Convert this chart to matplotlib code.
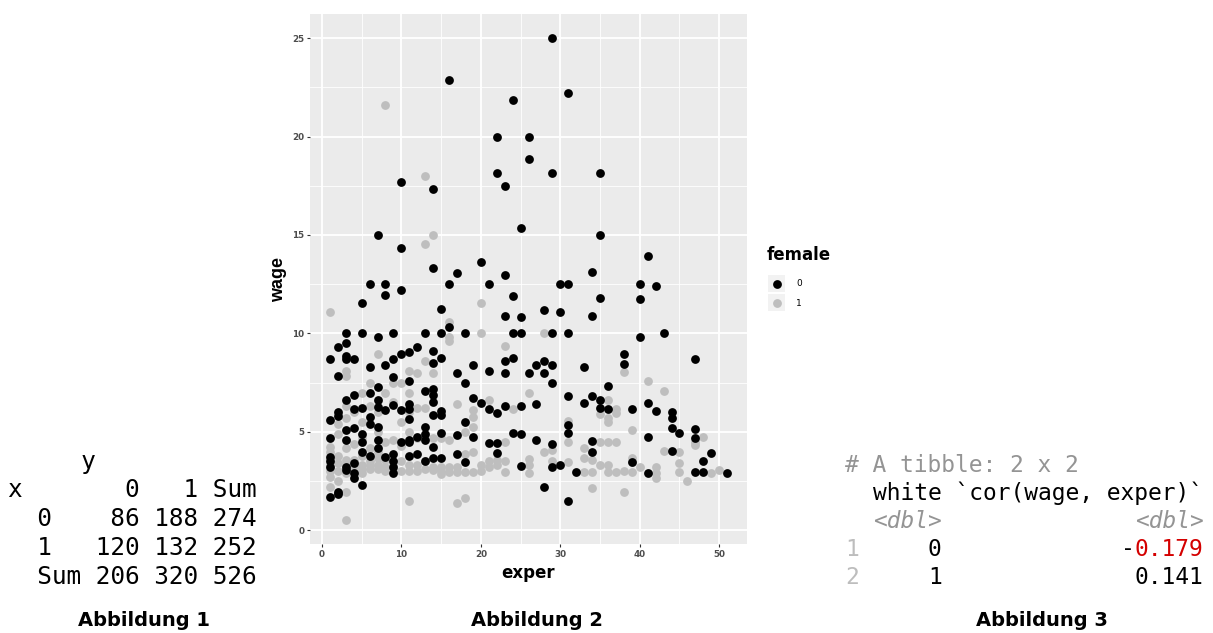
import matplotlib
matplotlib.use("Agg")
import matplotlib.pyplot as plt
from matplotlib.patches import Rectangle

# ---------------- data ----------------
# Abbildung 1: contingency table x vs y
tab_rows = ["0", "1", "Sum"]
tab_y0 = [86, 120, 206]
tab_y1 = [188, 132, 320]
tab_sum = [274, 252, 526]

# Abbildung 3: tibble
tib_white = [0, 1]
tib_cor = [-0.179, 0.141]

# Abbildung 2: scatter (exper, wage), female = 0 (black)
exper_m = ([1]*7 + [2]*6 + [3]*9 + [4]*7 + [5]*7 + [6]*6 + [7]*8 + [8]*5 + [9]*8 + [10]*6
           + [11]*8 + [12]*3 + [13]*6 + [14]*10 + [15]*7 + [16]*3 + [17]*4 + [18]*4 + [19]*3
           + [20]*2 + [21]*4 + [22]*5 + [23]*6 + [24]*5 + [25]*6 + [26]*3 + [27]*3 + [28]*4
           + [29]*7 + [30]*3 + [31]*7 + [32]*1 + [33]*2 + [34]*5 + [35]*5 + [36]*2 + [38]*2
           + [39]*2 + [40]*3 + [41]*4 + [42]*2 + [43]*1 + [44]*4 + [45]*1 + [47]*4 + [48]*2
           + [49]*1 + [51]*1)
wage_m = [8.7, 5.6, 4.7, 3.75, 3.5, 3.2, 1.72,
          9.3, 7.86, 6.0, 5.8, 1.97, 1.85,
          10.0, 9.5, 8.87, 8.7, 6.6, 5.08, 4.58, 3.2, 3.06,
          8.69, 6.85, 6.18, 5.2, 3.4, 2.9, 2.65,
          11.54, 10.0, 6.2, 4.9, 4.5, 4.0, 2.3,
          12.5, 8.3, 7.0, 5.76, 5.4, 3.8,
          15.0, 9.8, 7.27, 6.6, 6.26, 5.24, 4.58, 4.16,
          12.5, 11.93, 8.42, 6.1, 3.74,
          10.0, 8.7, 7.78, 6.35, 3.9, 3.5, 3.23, 2.9,
          17.7, 14.36, 12.2, 8.96, 6.1, 4.5,
          9.04, 7.6, 6.4, 6.18, 5.67, 4.6, 4.5, 3.77,
          9.3, 4.75, 3.87,
          10.0, 7.1, 5.25, 4.9, 4.6, 3.5,
          17.32, 13.3, 9.1, 8.48, 7.2, 6.85, 6.5, 5.84, 4.24, 3.7,
          11.25, 10.0, 8.74, 6.06, 5.84, 4.95, 3.7,
          22.85, 12.5, 10.35,
          13.05, 7.98, 4.83, 3.87,
          10.0, 7.47, 5.5, 3.48,
          8.42, 6.72, 4.75,
          13.65, 6.46,
          12.5, 8.1, 6.18, 4.44,
          20.0, 18.17, 5.96, 4.44, 3.94,
          17.47, 12.98, 10.9, 8.59, 7.98, 6.3,
          21.85, 11.88, 10.0, 8.74, 4.95,
          15.36, 10.86, 10.0, 6.3, 4.92, 3.28,
          20.0, 18.88, 7.98,
          8.4, 6.43, 4.6,
          11.2, 8.59, 7.98, 2.22,
          25.0, 18.15, 10.0, 8.42, 7.47, 4.4, 3.23,
          12.5, 11.08, 3.3,
          22.2, 12.5, 10.0, 6.83, 5.35, 4.95, 1.47,
          2.98,
          8.28, 6.48,
          13.14, 10.9, 6.83, 4.53, 3.97,
          18.15, 15.0, 11.78, 6.6, 6.2,
          7.31, 6.18,
          8.96, 8.45,
          6.18, 3.48,
          12.5, 11.73, 9.83,
          13.92, 6.48, 4.75, 2.9,
          12.4, 6.06,
          10.0,
          6.0, 5.72, 5.22, 4.04,
          4.97,
          8.7, 5.17, 4.71, 2.98,
          3.52, 2.98,
          3.94,
          2.9]

# female = 1 (grey)
exper_f = ([1]*7 + [2]*6 + [3]*10 + [4]*6 + [5]*7 + [6]*6 + [7]*7 + [8]*6 + [9]*5 + [10]*5
           + [11]*7 + [12]*5 + [13]*6 + [14]*5 + [15]*4 + [16]*6 + [17]*4 + [18]*4 + [19]*5
           + [20]*4 + [21]*3 + [22]*2 + [23]*4 + [24]*1 + [26]*4 + [28]*2 + [29]*2 + [31]*3
           + [33]*3 + [34]*3 + [35]*3 + [36]*6 + [37]*4 + [38]*3 + [39]*4 + [40]*1 + [41]*1
           + [42]*3 + [43]*2 + [45]*3 + [46]*1 + [47]*2 + [48]*1 + [49]*1 + [50]*1)
wage_f = [11.1, 4.24, 4.0, 3.3, 3.0, 2.73, 2.2,
          5.4, 4.9, 3.8, 3.4, 3.0, 2.5,
          8.1, 7.86, 6.3, 5.7, 4.2, 3.6, 3.3, 2.9, 1.97, 0.54,
          6.0, 4.4, 3.6, 3.35, 3.2, 3.0,
          7.0, 5.5, 4.7, 3.8, 3.3, 3.1, 2.9,
          7.47, 6.3, 4.2, 3.5, 3.3, 3.1,
          8.96, 6.0, 5.0, 4.0, 3.7, 3.3, 3.1,
          21.6, 7.0, 4.5, 3.6, 3.2, 3.0,
          7.5, 6.5, 4.6, 3.3, 3.0,
          7.47, 5.5, 4.3, 3.5, 3.0,
          8.1, 7.0, 6.0, 5.0, 3.3, 3.0, 1.47,
          7.98, 6.2, 4.7, 3.3, 3.0,
          18.0, 14.54, 8.6, 6.2, 3.5, 3.1,
          15.0, 7.98, 4.7, 3.2, 3.05,
          4.7, 3.2, 3.0, 2.85,
          10.6, 9.8, 9.63, 4.6, 3.2, 2.95,
          6.43, 3.2, 2.95, 1.41,
          5.0, 3.9, 2.98, 1.63,
          6.1, 5.76, 5.25, 4.0, 2.98,
          11.53, 10.0, 3.3, 3.0,
          6.6, 3.5, 3.2,
          3.6, 3.3,
          9.38, 4.5, 3.5, 2.95,
          6.18,
          6.99, 3.65, 3.3, 2.9,
          10.0, 3.99,
          4.07, 3.5,
          5.55, 4.5, 3.48,
          4.16, 3.7, 2.98,
          3.57, 2.98, 2.14,
          5.9, 4.5, 3.3,
          6.6, 5.72, 5.5, 4.5, 3.3, 2.98,
          6.18, 5.96, 4.5, 2.98,
          8.03, 3.0, 1.94,
          5.1, 3.7, 3.48, 2.98,
          3.23,
          7.58,
          3.23, 2.9, 2.65,
          7.1, 4.04,
          3.99, 3.4, 2.98,
          2.53,
          4.5, 4.33,
          4.75,
          2.9,
          3.06]

x_ticks = [0, 10, 20, 30, 40, 50]
y_ticks = [0, 5, 10, 15, 20, 25]
legend_labels = ["0", "1"]

# ---------------- figure ----------------
W, H = 1213, 633
fig = plt.figure(figsize=(W / 100, H / 100), dpi=100)
fig.patch.set_facecolor("white")


def P(x, y):
    return x / W, 1 - y / H


MONO = "DejaVu Sans Mono"
SANS = "Liberation Sans"
WIDE = "DejaVu Sans"
BLACK_C = "#000000"
GREY_C = "#BEBEBE"

# ---- Abbildung 1: table ----
tfs = 17.6
tx = 8
lines1 = ["     y",
          "x       0   1 Sum"]
for r, a, b, s in zip(tab_rows, tab_y0, tab_y1, tab_sum):
    lines1.append("  " + r.ljust(3) + " " + f"{a:>3} {b:>3} {s:>3}")
ys1 = [462, 490, 519, 548, 577]
for ln, yy in zip(lines1, ys1):
    fig.text(*P(tx, yy), ln, family=MONO, fontsize=tfs, ha="left", va="center",
             color="black")

# ---- Abbildung 3: tibble ----
rfs = 16.5
rx = 845
cw = 0.602 * rfs * 100 / 72  # monospace advance in px
fig.text(*P(rx, 466), "# A tibble: 2 x 2", family=MONO, fontsize=rfs, ha="left",
         va="center", color="#949494")
fig.text(*P(rx + 2 * cw, 493), "white `cor(wage, exper)`", family=MONO, fontsize=rfs,
         ha="left", va="center", color="black")
fig.text(*P(rx + 2 * cw, 521), "<dbl>", family=MONO, fontsize=rfs,
         ha="left", va="center", color="#949494", style="italic")
fig.text(*P(rx + 21 * cw, 521), "<dbl>", family=MONO, fontsize=rfs,
         ha="left", va="center", color="#949494", style="italic")
for i, (wv, cv, yy) in enumerate(zip(tib_white, tib_cor, [549, 577])):
    fig.text(*P(rx, yy), str(i + 1), family=MONO, fontsize=rfs, ha="left",
             va="center", color="#BDBDBD")
    fig.text(*P(rx + 6 * cw, yy), str(wv), family=MONO, fontsize=rfs, ha="left",
             va="center", color="black")
    num = f"{abs(cv):.3f}"
    if cv < 0:
        fig.text(*P(rx + 20 * cw, yy), "-", family=MONO, fontsize=rfs,
                 ha="left", va="center", color="black")
        fig.text(*P(rx + 21 * cw, yy), num, family=MONO, fontsize=rfs,
                 ha="left", va="center", color="#D40000")
    else:
        fig.text(*P(rx + 21 * cw, yy), num, family=MONO, fontsize=rfs,
                 ha="left", va="center", color="black")

# ---- captions ----
for cx, lab in [(144, "Abbildung 1"), (537, "Abbildung 2"), (1042, "Abbildung 3")]:
    fig.text(*P(cx, 620), lab, family=WIDE, fontweight="bold", fontsize=14,
             ha="center", va="center", color="black")

# ---- Abbildung 2: scatter ----
left, right, top, bottom = 310, 747, 14, 544
ax = fig.add_axes([left / W, 1 - bottom / H, (right - left) / W, (bottom - top) / H])
ax.set_facecolor("#EBEBEB")
ax.set_xlim(-1.5, 53.5)
ax.set_ylim(-0.69, 26.22)
ax.set_xticks(x_ticks)
ax.set_yticks(y_ticks)
ax.set_xticks([5, 15, 25, 35, 45], minor=True)
ax.set_yticks([2.5, 7.5, 12.5, 17.5, 22.5], minor=True)
ax.grid(which="major", color="white", linewidth=1.3)
ax.grid(which="minor", color="white", linewidth=0.6)
ax.set_axisbelow(True)
for sp in ax.spines.values():
    sp.set_visible(False)
ax.tick_params(which="major", length=2.5, width=0.8, color="#333333",
               labelsize=6.3, labelcolor="#4D4D4D", pad=1.5)
ax.tick_params(which="minor", length=0)
for lab in ax.get_xticklabels() + ax.get_yticklabels():
    lab.set_fontfamily(WIDE)
    lab.set_fontweight("bold")

ax.scatter(exper_f, wage_f, s=40, color=GREY_C, linewidths=0, zorder=2)
ax.scatter(exper_m, wage_m, s=40, color=BLACK_C, linewidths=0, zorder=3)

ax.set_xlabel("exper", family=WIDE, fontweight="bold", fontsize=12, labelpad=4)
ax.set_ylabel("wage", family=SANS, fontweight="bold", fontsize=13, labelpad=4)

# ---- legend ----
lax = fig.add_axes([755 / W, 1 - 320 / H, 90 / W, 80 / H])
lax.set_xlim(755, 845)
lax.set_ylim(320, 240)
lax.axis("off")
lax.text(767, 255, "female", family=WIDE, fontweight="bold", fontsize=12,
         ha="left", va="center")
for lab, col, yy in zip(legend_labels, [BLACK_C, GREY_C], [284, 303]):
    lax.add_patch(Rectangle((768, yy - 8.5), 17, 17, facecolor="#F2F2F2",
                            edgecolor="none"))
    lax.scatter([776.5], [yy], s=40, color=col, linewidths=0)
    lax.text(796, yy, lab, family=WIDE, fontsize=6.5, ha="left", va="center",
             color="black")

fig.savefig("out.png", dpi=100)
